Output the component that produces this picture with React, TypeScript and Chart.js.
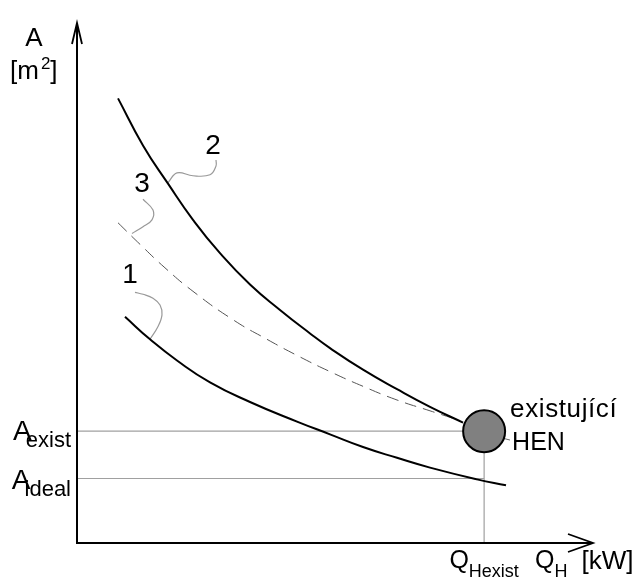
import React, { useEffect, useRef } from "react";
import { Chart, registerables } from "chart.js";

Chart.register(...registerables);

// Data space: Q_H on x (0..100), A on y (0..100), schematic units
const X_MIN = 0, X_MAX = 100, Y_MIN = 0, Y_MAX = 100;

const Q_HEXIST = 78.9;
const A_EXIST = 21.5;
const A_IDEAL = 12.4;

// Curve 2 (solid, top)
const curve2X = [7.95, 12.79, 17.64, 22.48, 27.71, 33.53, 39.34, 45.16, 49.03, 55.43, 62.02, 68.41, 74.81];
const curve2Y = [85.5, 76.46, 69.11, 62.15, 55.74, 49.72, 44.82, 40.3, 37.48, 33.33, 29.57, 26.18, 23.16];
// Curve 3 (dashed)
const curve3X = [7.95, 12.21, 17.05, 22.48, 30.23, 36.82, 43.22, 49.03, 55.43, 62.02, 68.41, 74.22];
const curve3Y = [61.58, 57.44, 52.92, 48.4, 42.94, 39.17, 35.78, 32.96, 30.13, 27.5, 25.42, 23.54];
// Curve 1 (solid, bottom)
const curve1X = [9.3, 14.15, 19.38, 25.78, 33.53, 42.64, 49.03, 55.43, 62.02, 68.41, 77.52, 83.14];
const curve1Y = [43.5, 39.17, 35.1, 30.9, 27.12, 23.35, 20.9, 18.46, 16.38, 14.5, 12.24, 11.11];

// Label leaders (grey squiggles)
const leader2X = [17.64, 19.38, 22.48, 25.78, 26.94, 26.94];
const leader2Y = [69.3, 71.19, 70.62, 70.81, 72.5, 73.63];
const leader3X = [10.66, 12.79, 14.53, 14.73, 12.79];
const leader3Y = [59.51, 60.83, 62.15, 64.03, 66.1];
const leader1X = [14.15, 15.7, 16.47, 16.09, 14.73, 12.79, 11.24];
const leader1Y = [39.17, 41.62, 43.88, 45.76, 47.08, 47.83, 48.21];
const leaderHenX = [82.56, 83.91];
const leaderHenY = [20.15, 19.8];

const curveLabels = ["1", "2", "3"];
const curveLabelX = [10.3, 26.36, 12.6];
const curveLabelY = [51.4, 76.27, 68.93];

const FONT = "'Liberation Sans', Arial, Helvetica, sans-serif";

const pts = (xs: number[], ys: number[]) => xs.map((x, i) => ({ x, y: ys[i] }));

function drawSub(
  ctx: CanvasRenderingContext2D,
  main: string,
  sub: string,
  x: number,
  baseline: number,
  mainSize: number,
  subSize: number,
  subDy: number,
  subDx: number,
  align: "left" | "right" | "center"
) {
  ctx.font = `${mainSize}px ${FONT}`;
  const wm = ctx.measureText(main).width;
  ctx.font = `${subSize}px ${FONT}`;
  const ws = ctx.measureText(sub).width;
  const total = wm + subDx + ws;
  let left = x;
  if (align === "right") left = x - total;
  if (align === "center") left = x - total / 2;
  ctx.textAlign = "left";
  ctx.textBaseline = "alphabetic";
  ctx.font = `${mainSize}px ${FONT}`;
  ctx.fillText(main, left, baseline);
  ctx.font = `${subSize}px ${FONT}`;
  ctx.fillText(sub, left + wm + subDx, baseline + subDy);
  return left + total;
}

const overlay = {
  id: "overlay",
  afterDraw(chart: any) {
    const ctx: CanvasRenderingContext2D = chart.ctx;
    const xs = chart.scales.x;
    const ys = chart.scales.y;
    const x0 = xs.getPixelForValue(X_MIN);
    const x1 = xs.getPixelForValue(X_MAX);
    const y0 = ys.getPixelForValue(Y_MIN);
    const y1 = ys.getPixelForValue(Y_MAX);
    ctx.save();
    ctx.strokeStyle = "#000";
    ctx.lineWidth = 2;
    ctx.lineCap = "butt";
    // axes
    ctx.beginPath();
    ctx.moveTo(x0, y0);
    ctx.lineTo(x0, y1 + 1);
    ctx.moveTo(x0 - 1, y0);
    ctx.lineTo(x1 - 1, y0);
    ctx.stroke();
    // arrowheads
    ctx.lineWidth = 1.8;
    ctx.beginPath();
    ctx.moveTo(x0 - 5, y1 + 21);
    ctx.lineTo(x0, y1);
    ctx.lineTo(x0 + 5, y1 + 21);
    ctx.moveTo(x1 - 25, y0 - 9);
    ctx.lineTo(x1, y0);
    ctx.lineTo(x1 - 25, y0 + 9);
    ctx.stroke();

    ctx.fillStyle = "#000";
    // y axis title
    ctx.font = `26px ${FONT}`;
    ctx.textAlign = "center";
    ctx.textBaseline = "alphabetic";
    ctx.fillText("A", x0 - 43, y1 + 23);
    ctx.textAlign = "left";
    ctx.font = `26px ${FONT}`;
    const mLeft = x0 - 67;
    ctx.fillText("[m", mLeft, y1 + 56);
    const wm = ctx.measureText("[m").width;
    ctx.font = `17px ${FONT}`;
    ctx.fillText("2", mLeft + wm + 2, y1 + 46);
    const w2 = ctx.measureText("2").width;
    ctx.font = `26px ${FONT}`;
    ctx.fillText("]", mLeft + wm + 2 + w2, y1 + 56);

    // A labels
    const yE = ys.getPixelForValue(A_EXIST);
    const yI = ys.getPixelForValue(A_IDEAL);
    drawSub(ctx, "A", "exist", x0 - 6, yE + 9, 28, 22, 7, -6, "right");
    drawSub(ctx, "A", "ideal", x0 - 6, yI + 10, 28, 22, 7, -6, "right");

    // Q labels
    const xQ = xs.getPixelForValue(Q_HEXIST);
    drawSub(ctx, "Q", "Hexist", xQ, y0 + 25, 25, 18, 9, 0, "center");
    const end = drawSub(ctx, "Q", "H", x1 - 58, y0 + 25, 25, 18, 9, 0, "left");
    ctx.font = `26px ${FONT}`;
    ctx.textAlign = "left";
    ctx.fillText("[kW]", end + 14, y0 + 26);

    // existing HEN label
    const yC = ys.getPixelForValue(A_EXIST);
    ctx.font = `26px ${FONT}`;
    ctx.textAlign = "left";
    (ctx as any).letterSpacing = "0.6px";
    ctx.fillText("existující", xQ + 26, yC - 14);
    (ctx as any).letterSpacing = "0px";
    ctx.font = `25px ${FONT}`;
    ctx.fillText("HEN", xQ + 28, yC + 19);

    // curve numbers
    ctx.font = `28px ${FONT}`;
    ctx.textAlign = "center";
    ctx.textBaseline = "middle";
    curveLabels.forEach((t, i) => {
      ctx.fillText(t, xs.getPixelForValue(curveLabelX[i]), ys.getPixelForValue(curveLabelY[i]));
    });
    ctx.restore();
  },
};

export default function App() {
  const ref = useRef<HTMLCanvasElement | null>(null);
  useEffect(() => {
    if (!ref.current) return;
    const line = (data: any[], extra: any) => ({
      type: "scatter",
      data,
      showLine: true,
      pointRadius: 0,
      pointHoverRadius: 0,
      fill: false,
      clip: false,
      ...extra,
    });
    const chart = new Chart(ref.current, {
      type: "scatter",
      data: {
        datasets: [
          {
            data: [{ x: Q_HEXIST, y: A_EXIST }],
            pointRadius: 21,
            pointHoverRadius: 21,
            backgroundColor: "#808080",
            borderColor: "#000",
            borderWidth: 2,
            showLine: false,
            clip: false,
            order: 0,
          } as any,
          line(pts(curve2X, curve2Y), { borderColor: "#000", borderWidth: 2, tension: 0.5, order: 1 }),
          line(pts(curve1X, curve1Y), { borderColor: "#000", borderWidth: 2, tension: 0.5, order: 1 }),
          line(pts(curve3X, curve3Y), { borderColor: "#555", borderWidth: 1, borderDash: [12, 7], tension: 0.5, order: 2 }),
          line(pts(leader2X, leader2Y), { borderColor: "#999", borderWidth: 1.2, tension: 0.4, order: 3 }),
          line(pts(leader3X, leader3Y), { borderColor: "#999", borderWidth: 1.2, tension: 0.4, order: 3 }),
          line(pts(leader1X, leader1Y), { borderColor: "#999", borderWidth: 1.2, tension: 0.4, order: 3 }),
          line(pts(leaderHenX, leaderHenY), { borderColor: "#666", borderWidth: 1, order: 3 }),
          line([{ x: X_MIN, y: A_EXIST }, { x: Q_HEXIST, y: A_EXIST }], { borderColor: "#a0a0a0", borderWidth: 1.2, order: 4 }),
          line([{ x: X_MIN, y: A_IDEAL }, { x: Q_HEXIST, y: A_IDEAL }], { borderColor: "#a0a0a0", borderWidth: 1.2, order: 4 }),
          line([{ x: Q_HEXIST, y: Y_MIN }, { x: Q_HEXIST, y: A_EXIST }], { borderColor: "#a0a0a0", borderWidth: 1.2, order: 4 }),
        ] as any,
      },
      options: {
        responsive: false,
        maintainAspectRatio: false,
        animation: false,
        devicePixelRatio: 1,
        layout: { padding: { left: 77, right: 40, top: 12, bottom: 39 } },
        scales: {
          x: { type: "linear", min: X_MIN, max: X_MAX, display: false },
          y: { type: "linear", min: Y_MIN, max: Y_MAX, display: false },
        },
        plugins: { legend: { display: false }, tooltip: { enabled: false } },
        events: [],
      } as any,
      plugins: [overlay],
    });
    return () => chart.destroy();
  }, []);
  return (
    <div style={{ position: "fixed", left: 0, top: 0, width: 633, height: 582, background: "#fff" }}>
      <canvas ref={ref} width={633} height={582} style={{ width: 633, height: 582, display: "block" }} />
    </div>
  );
}
